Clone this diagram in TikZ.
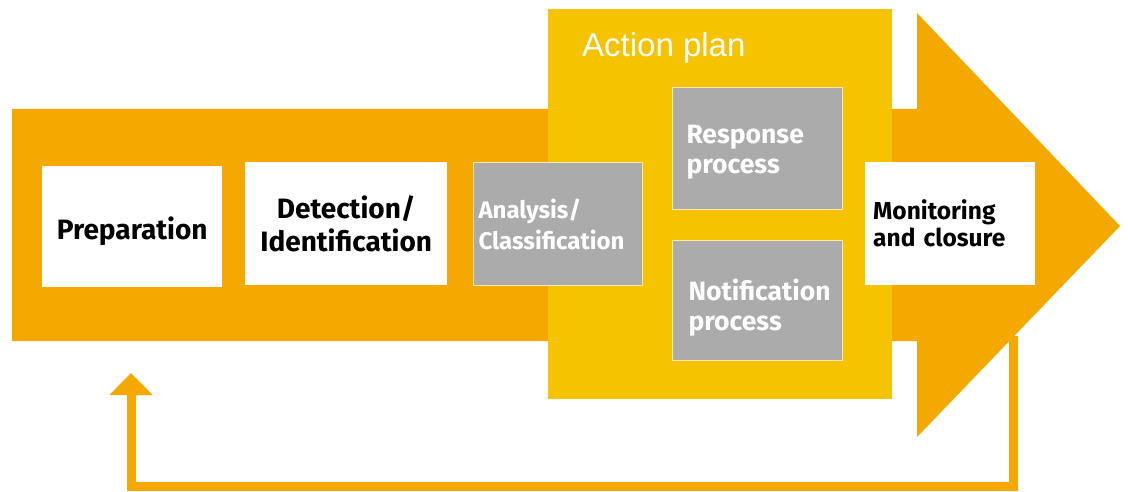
\documentclass[tikz,border=0pt]{standalone}
\usepackage{fontspec}
\setmainfont{Fira Sans}
\newfontfamily\arialfont{Liberation Sans}
\usetikzlibrary{arrows.meta}
\definecolor{orangec}{HTML}{F5A800}
\definecolor{yellowc}{HTML}{F6C300}
\definecolor{grayc}{HTML}{ABABAB}
\definecolor{edgec}{HTML}{FCE9A8}
\tikzset{
  box/.style={rectangle, inner ysep=0pt, anchor=north west, font=\bfseries},
  wbox/.style={box, fill=white, text=black},
  gbox/.style={box, fill=grayc, draw=edgec, line width=1pt, text=white},
  feedback/.style={orangec, line width=9pt, line join=miter,
    -{Triangle[width=42pt,length=22pt]}},
}
\begin{document}
\begin{tikzpicture}[x=1pt,y=-1pt]
\useasboundingbox (0,0) rectangle (1128,492);
% big process arrow
\fill[orangec] (12,109) -- (917,109) -- (917,13) -- (1120,226)
  -- (917,437) -- (917,341) -- (12,341) -- cycle;
% action plan area
\node[rectangle, fill=yellowc, anchor=north west, inner sep=0pt,
  minimum width=344pt, minimum height=390pt] (plan) at (548,9) {};
\node[anchor=base west, inner sep=0pt, text=white,
  font=\arialfont\fontsize{33}{36}\selectfont] (plantitle) at (582,57) {Action plan};
% steps
\node[wbox, text width=180pt, inner xsep=0pt, minimum height=121pt, align=center,
  font=\bfseries\fontsize{28}{30}\selectfont] (prep) at (42,166) {\rule{0pt}{32pt}Preparation};
\node[wbox, text width=202pt, inner xsep=0pt, minimum height=123pt, align=center,
  font=\bfseries\fontsize{28}{33}\selectfont] (detect) at (245,162) {Detection/\\Identification};
\node[gbox, text width=159pt, inner xsep=5pt, minimum height=123pt, align=left,
  font=\bfseries\fontsize{24}{31}\selectfont] (analysis) at (473,162) {Analysis/\\Classification};
\node[gbox, text width=142pt, inner xsep=14pt, minimum height=122pt, align=left,
  font=\bfseries\fontsize{26.5}{30}\selectfont] (response) at (672,87) {\rule{0pt}{26pt}Response\\process};
\node[gbox, text width=138pt, inner xsep=16pt, minimum height=120pt, align=left,
  font=\bfseries\fontsize{26.5}{30}\selectfont] (notify) at (672,240) {\rule{0pt}{36pt}Notification\\process};
\node[wbox, text width=154pt, inner xsep=8pt, minimum height=123pt, align=left,
  font=\bfseries\fontsize{24.5}{27}\selectfont] (monitor) at (865,162) {Monitoring\\and closure};
% feedback loop
\coordinate (fbstart) at (1013,336);
\coordinate (fbend) at (131,373);
\draw[feedback] (fbstart) |- (131,486) -- (fbend);
\end{tikzpicture}
\end{document}
